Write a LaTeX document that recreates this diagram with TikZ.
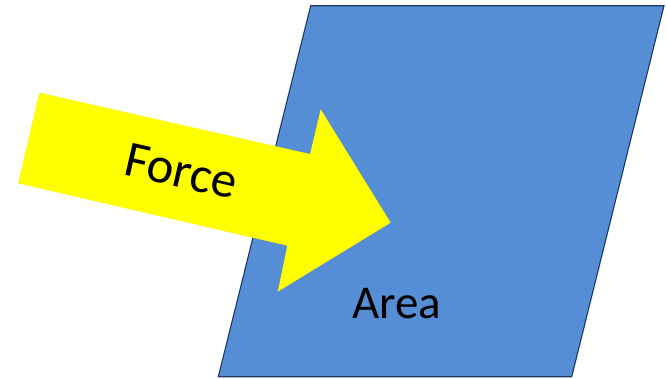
\documentclass[tikz,border=0pt]{standalone}
\usepackage{fontspec}
\setmainfont{Carlito}
\usepackage{xcolor}
\usetikzlibrary{calc}
\definecolor{areablue}{HTML}{558ED5}
\definecolor{areaedge}{HTML}{1F3864}
\definecolor{forceyellow}{HTML}{FFFF00}

\begin{document}
\begin{tikzpicture}[x=1pt,y=-1pt,
    label text/.style={font=\fontsize{47}{50}\selectfont,inner sep=0pt}]
  \useasboundingbox (0,0) rectangle (667,378);
  % area plate
  \draw[draw=areaedge,fill=areablue,line width=1.1pt]
    (310.7,5.7) -- (664,5.7) -- (571.7,376.7) -- (218.3,376.7) -- cycle;
  \node[label text,anchor=base] (area) at (396.5,318.3) {Area};
  % force arrow
  \coordinate (tailtop) at (39.3,92.7);
  \coordinate (shafttop) at (310,154);
  \coordinate (barbtop) at (320.7,109.3);
  \coordinate (tip) at (390.7,222.7);
  \coordinate (barbbot) at (277.7,291.7);
  \coordinate (shaftbot) at (287.3,245.7);
  \coordinate (tailbot) at (18.3,183.3);
  \fill[black,opacity=0.12,shift={(-1.5,3)}]
    (tailtop) -- (shafttop) -- (barbtop) -- (tip) -- (barbbot)
    -- (shaftbot) -- (tailbot) -- cycle;
  \fill[forceyellow]
    (tailtop) -- (shafttop) -- (barbtop) -- (tip) -- (barbbot)
    -- (shaftbot) -- (tailbot) -- cycle;
  \node[label text,font=\fontsize{51}{54}\selectfont,anchor=base,rotate=-13]
    (force) at (177.6,186.8) {Force};
\end{tikzpicture}
\end{document}
